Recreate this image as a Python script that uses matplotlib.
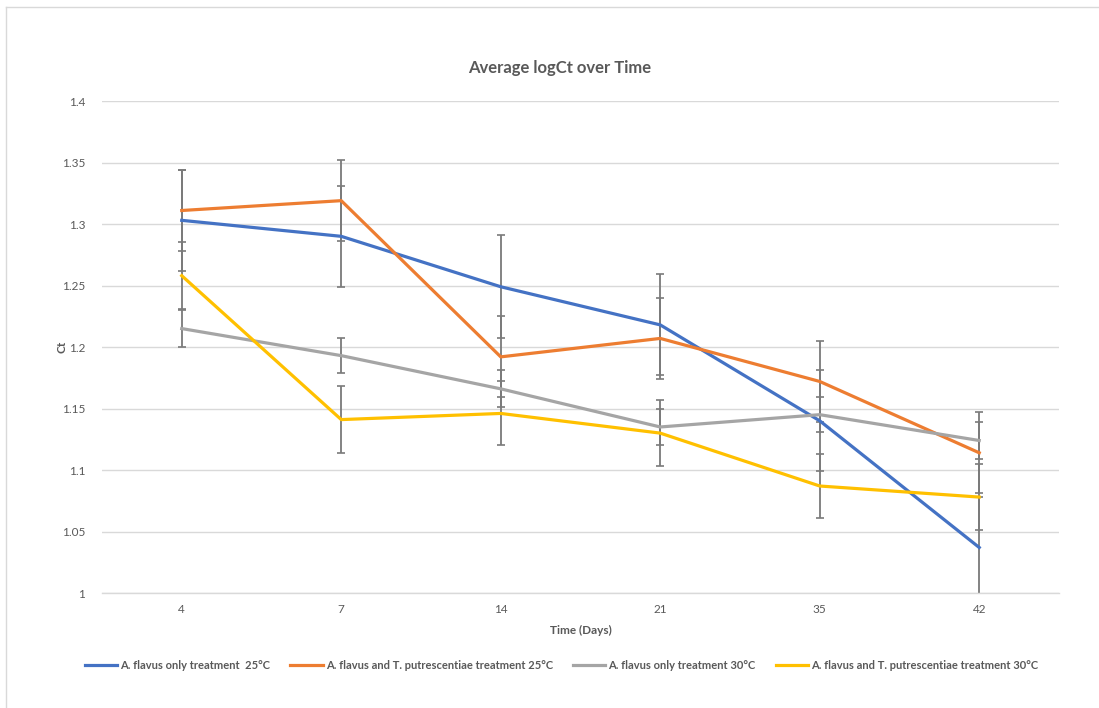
import matplotlib.pyplot as plt
from matplotlib.lines import Line2D

plt.rcParams['font.family'] = ['Lato', 'DejaVu Sans']

days = ['4', '7', '14', '21', '35', '42']

af_25 = [1.303, 1.290, 1.249, 1.218, 1.140, 1.037]
af_25_err = [0.041, 0.041, 0.042, 0.041, 0.041, 0.041]
aftp_25 = [1.311, 1.319, 1.192, 1.207, 1.172, 1.114]
aftp_25_err = [0.033, 0.033, 0.033, 0.033, 0.033, 0.033]
af_30 = [1.215, 1.193, 1.166, 1.135, 1.145, 1.124]
af_30_err = [0.015, 0.014, 0.015, 0.015, 0.014, 0.015]
aftp_30 = [1.258, 1.141, 1.146, 1.130, 1.087, 1.078]
aftp_30_err = [0.027, 0.027, 0.026, 0.027, 0.026, 0.027]

labels = ['A. flavus only treatment  25°C',
          'A. flavus and T. putrescentiae treatment 25°C',
          'A. flavus only treatment 30°C',
          'A. flavus and T. putrescentiae treatment 30°C']
colors = ['#4472C4', '#ED7D31', '#A5A5A5', '#FFC000']
series = [(af_25, af_25_err), (aftp_25, aftp_25_err),
          (af_30, af_30_err), (aftp_30, aftp_30_err)]

fig = plt.figure(figsize=(10.99, 7.08), dpi=100)
ax = fig.add_axes([0.0928, 0.1624, 0.8708, 0.6949])

for (vals, err), col, lab in zip(series, colors, labels):
    ax.errorbar(days, vals, yerr=err, fmt='none', ecolor='#7a7a7a',
                elinewidth=1.3, capsize=3, capthick=1.2, zorder=2)
    ax.plot(days, vals, color=col, lw=2.3, label=lab, zorder=3,
            solid_joinstyle='round')

ax.set_xlim(-0.5, 5.5)
ax.set_ylim(1.0, 1.4)
ax.set_yticks([1, 1.05, 1.1, 1.15, 1.2, 1.25, 1.3, 1.35, 1.4])
ax.set_yticklabels(['1', '1.05', '1.1', '1.15', '1.2', '1.25', '1.3', '1.35', '1.4'])
ax.grid(axis='y', color='#d9d9d9', lw=1)
ax.set_axisbelow(True)
for s in ['top', 'right', 'left']:
    ax.spines[s].set_visible(False)
ax.spines['bottom'].set_color('#d9d9d9')
ax.spines['bottom'].set_linewidth(1)
ax.tick_params(axis='both', length=0, labelsize=8.5, colors='#595959')
ax.tick_params(axis='y', pad=12)
ax.tick_params(axis='x', pad=8)

ax.set_xlabel('Time (Days)', fontsize=8.5, fontweight='bold', color='#595959', labelpad=7)
ax.set_ylabel('Ct', fontsize=8.5, fontweight='bold', color='#595959', labelpad=-4)
fig.text(0.509, 0.904, 'Average logCt over Time', ha='center', va='center',
         fontsize=12, fontweight='bold', color='#595959')

handles = [Line2D([0], [0], color=c, lw=2.3) for c in colors]
leg = fig.legend(handles, labels, loc='center', bbox_to_anchor=(0.511, 0.0607),
                 ncol=4, frameon=False, fontsize=8, handlelength=2.9,
                 handletextpad=0.3, columnspacing=1.8)
for t in leg.get_texts():
    t.set_color('#595959')
    t.set_fontweight('bold')

# chart area border (top and left edges visible)
fig.add_artist(Line2D([0.0055, 1.0], [0.990, 0.990], color='#d9d9d9', lw=1,
                      transform=fig.transFigure))
fig.add_artist(Line2D([0.0055, 0.0055], [0.0, 0.990], color='#d9d9d9', lw=1,
                      transform=fig.transFigure))

fig.savefig('out.png', dpi=100)
